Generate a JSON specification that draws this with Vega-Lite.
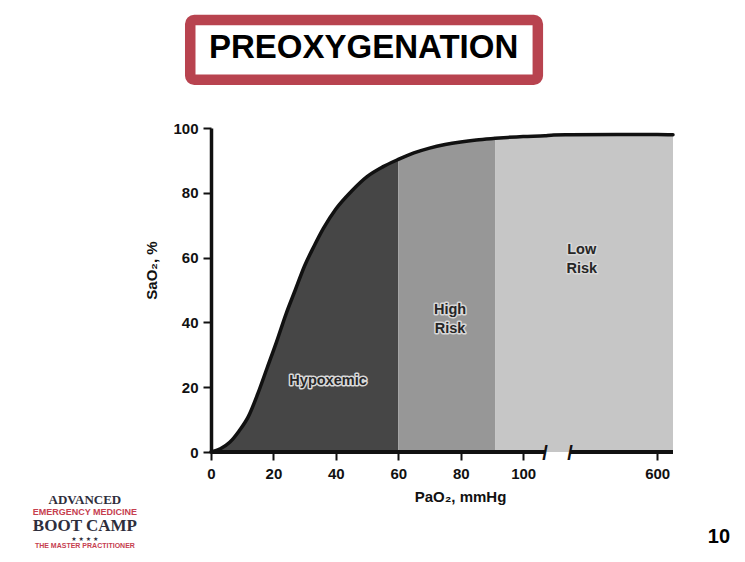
{
  "$schema": "https://vega.github.io/schema/vega-lite/v6.json",
  "width": 462,
  "height": 324,
  "autosize": {"type": "none"},
  "padding": {"left": 211, "top": 128, "right": 72, "bottom": 110},
  "background": "white",
  "config": {
    "font": "Liberation Sans",
    "view": {"stroke": null},
    "axis": {"grid": false}
  },
  "datasets": {
    "curve": [
      {"p": 0, "s": 0, "zone": "Hypoxemic"},
      {"p": 3, "s": 1, "zone": "Hypoxemic"},
      {"p": 6, "s": 3, "zone": "Hypoxemic"},
      {"p": 9, "s": 6.5, "zone": "Hypoxemic"},
      {"p": 12, "s": 11, "zone": "Hypoxemic"},
      {"p": 15, "s": 18, "zone": "Hypoxemic"},
      {"p": 18, "s": 26, "zone": "Hypoxemic"},
      {"p": 21, "s": 34, "zone": "Hypoxemic"},
      {"p": 24, "s": 42.5, "zone": "Hypoxemic"},
      {"p": 27, "s": 50, "zone": "Hypoxemic"},
      {"p": 30, "s": 57.5, "zone": "Hypoxemic"},
      {"p": 33, "s": 63.5, "zone": "Hypoxemic"},
      {"p": 36, "s": 69, "zone": "Hypoxemic"},
      {"p": 40, "s": 75, "zone": "Hypoxemic"},
      {"p": 45, "s": 80.5, "zone": "Hypoxemic"},
      {"p": 50, "s": 85, "zone": "Hypoxemic"},
      {"p": 55, "s": 88, "zone": "Hypoxemic"},
      {"p": 60, "s": 90.3, "zone": "Hypoxemic"},
      {"p": 60, "s": 90.3, "zone": "High Risk"},
      {"p": 65, "s": 92.3, "zone": "High Risk"},
      {"p": 70, "s": 93.8, "zone": "High Risk"},
      {"p": 75, "s": 94.9, "zone": "High Risk"},
      {"p": 80, "s": 95.7, "zone": "High Risk"},
      {"p": 85, "s": 96.3, "zone": "High Risk"},
      {"p": 91, "s": 96.8, "zone": "High Risk"},
      {"p": 91, "s": 96.8, "zone": "Low Risk"},
      {"p": 95, "s": 97.1, "zone": "Low Risk"},
      {"p": 100, "s": 97.4, "zone": "Low Risk"},
      {"p": 107, "s": 97.6, "zone": "Low Risk"},
      {"p": 200, "s": 97.8, "zone": "Low Risk"},
      {"p": 490, "s": 97.9, "zone": "Low Risk"},
      {"p": 550, "s": 98, "zone": "Low Risk"},
      {"p": 600, "s": 98, "zone": "Low Risk"},
      {"p": 620, "s": 97.9, "zone": "Low Risk"}
    ],
    "labels": [
      {"label": "Hypoxemic", "p": 37.5, "s": 21.9},
      {"label": "High\nRisk", "p": 76.6, "s": 43.7},
      {"label": "Low\nRisk", "p": 504.8, "s": 62.3}
    ],
    "segments": [
      {"from": 0, "to": 107},
      {"from": 490, "to": 620}
    ],
    "breaks": [
      {"p": 107},
      {"p": 490}
    ]
  },
  "layer": [
    {
      "data": {"name": "curve"},
      "mark": {"type": "area", "opacity": 1, "interpolate": "monotone"},
      "encoding": {
        "x": {
          "field": "p",
          "type": "quantitative",
          "title": "PaO₂, mmHg",
          "scale": {"domain": [0, 107, 490, 620], "range": [0, 334, 359, 462], "nice": false, "zero": false},
          "axis": {
            "values": [0, 20, 40, 60, 80, 100, 600],
            "domain": false,
            "tickSize": 8,
            "tickWidth": 2,
            "tickColor": "#111",
            "labelFont": "Liberation Sans",
            "labelFontSize": 15,
            "labelFontWeight": "bold",
            "labelColor": "#111",
            "labelPadding": 6,
            "labelFlush": false,
            "labelOverlap": false,
            "titleFont": "Liberation Sans",
            "titleFontSize": 15,
            "titleFontWeight": "bold",
            "titleColor": "#111",
            "titleX": 249,
            "titleY": 49,
            "titleAlign": "center",
            "titleBaseline": "alphabetic"
          }
        },
        "y": {
          "field": "s",
          "type": "quantitative",
          "title": "SaO₂, %",
          "stack": null,
          "scale": {"domain": [0, 100], "nice": false, "zero": false},
          "axis": {
            "values": [0, 10, 20, 30, 40, 50, 60, 70, 80, 90, 100],
            "labelExpr": "datum.value % 20 == 0 ? datum.label : ''",
            "domain": true,
            "domainColor": "#111",
            "domainWidth": 3.5,
            "tickSize": 8,
            "tickWidth": 2,
            "tickColor": "#111",
            "labelFont": "Liberation Sans",
            "labelFontSize": 15,
            "labelFontWeight": "bold",
            "labelColor": "#111",
            "labelPadding": 5,
            "labelOverlap": false,
            "titleFont": "Liberation Sans",
            "titleFontSize": 15,
            "titleFontWeight": "bold",
            "titleColor": "#111",
            "titleX": -60,
            "titleY": 142,
            "titleAngle": -90,
            "titleAlign": "center",
            "titleBaseline": "middle"
          }
        },
        "color": {
          "field": "zone",
          "type": "nominal",
          "scale": {"domain": ["Hypoxemic", "High Risk", "Low Risk"], "range": ["#464646", "#979797", "#c6c6c6"]},
          "legend": null
        }
      }
    },
    {
      "data": {"name": "curve"},
      "mark": {"type": "line", "color": "#111", "strokeWidth": 3.5, "strokeCap": "round", "interpolate": "monotone"},
      "encoding": {
        "x": {"field": "p", "type": "quantitative", "title": "PaO₂, mmHg"},
        "y": {"field": "s", "type": "quantitative", "title": "SaO₂, %"}
      }
    },
    {
      "data": {"name": "segments"},
      "mark": {"type": "rule", "color": "#111", "strokeWidth": 4},
      "encoding": {
        "x": {"field": "from", "type": "quantitative", "title": "PaO₂, mmHg"},
        "x2": {"field": "to", "title": "PaO₂, mmHg"},
        "y": {"datum": 0, "type": "quantitative", "title": "SaO₂, %"}
      }
    },
    {
      "data": {"name": "breaks"},
      "mark": {"type": "text", "text": "/", "font": "Liberation Sans", "fontSize": 20, "fontWeight": "bold", "color": "#111", "baseline": "middle", "align": "center", "dy": 2},
      "encoding": {
        "x": {"field": "p", "type": "quantitative", "title": "PaO₂, mmHg"},
        "y": {"datum": 0, "type": "quantitative", "title": "SaO₂, %"}
      }
    },
    {
      "data": {"name": "labels"},
      "mark": {"type": "text", "font": "Liberation Sans", "fontSize": 14.5, "fontWeight": "bold", "lineBreak": "\n", "lineHeight": 19, "align": "center", "baseline": "middle", "fill": "#d8d8d8", "stroke": "#d8d8d8", "strokeWidth": 3, "strokeJoin": "round"},
      "encoding": {
        "x": {"field": "p", "type": "quantitative", "title": "PaO₂, mmHg"},
        "y": {"field": "s", "type": "quantitative", "title": "SaO₂, %"},
        "text": {"field": "label"}
      }
    },
    {
      "data": {"name": "labels"},
      "mark": {"type": "text", "font": "Liberation Sans", "fontSize": 14.5, "fontWeight": "bold", "lineBreak": "\n", "lineHeight": 19, "align": "center", "baseline": "middle", "color": "#262626"},
      "encoding": {
        "x": {"field": "p", "type": "quantitative", "title": "PaO₂, mmHg"},
        "y": {"field": "s", "type": "quantitative", "title": "SaO₂, %"},
        "text": {"field": "label"}
      }
    },
    {
      "data": {"values": [{"title": "PREOXYGENATION"}]},
      "layer": [
        {
          "mark": {"type": "rect", "fill": "#e2e2e2", "stroke": null, "cornerRadius": 4, "opacity": 0.8},
          "encoding": {
            "x": {"datum": -6.0, "type": "quantitative", "title": "PaO₂, mmHg"},
            "x2": {"datum": 105.5},
            "y": {"datum": 132.6, "type": "quantitative", "title": "SaO₂, %"},
            "y2": {"datum": 113.9}
          }
        },
        {
          "mark": {"type": "rect", "fill": "white", "stroke": "#b8434f", "strokeWidth": 10.5, "cornerRadius": 4},
          "encoding": {
            "x": {"datum": -6.65, "type": "quantitative", "title": "PaO₂, mmHg"},
            "x2": {"datum": 104.7},
            "y": {"datum": 133.3, "type": "quantitative", "title": "SaO₂, %"},
            "y2": {"datum": 114.9}
          }
        },
        {
          "mark": {"type": "text", "font": "Liberation Sans", "fontSize": 33, "fontWeight": "bold", "color": "#000", "align": "center", "baseline": "alphabetic"},
          "encoding": {
            "x": {"datum": 48.9, "type": "quantitative", "title": "PaO₂, mmHg"},
            "y": {"datum": 121.5, "type": "quantitative", "title": "SaO₂, %"},
            "text": {"field": "title"}
          }
        }
      ]
    },
    {
      "data": {"values": [{"page": "10"}]},
      "mark": {"type": "text", "font": "Liberation Sans", "fontSize": 20, "fontWeight": "bold", "color": "#000", "align": "center", "baseline": "alphabetic"},
      "encoding": {
        "x": {"datum": 678, "type": "quantitative", "title": "PaO₂, mmHg"},
        "y": {"datum": -28.1, "type": "quantitative", "title": "SaO₂, %"},
        "text": {"field": "page"}
      }
    },
    {
      "data": {"values": [
        {"t": "ADVANCED", "ly": -14.8, "size": 13},
        {"t": "BOOT CAMP", "ly": -22.9, "size": 17}
      ]},
      "mark": {"type": "text", "font": "Liberation Serif", "fontWeight": "bold", "align": "center", "baseline": "middle", "color": "#2e2e3c"},
      "encoding": {
        "x": {"datum": -40.4, "type": "quantitative", "title": "PaO₂, mmHg"},
        "y": {"field": "ly", "type": "quantitative", "title": "SaO₂, %"},
        "text": {"field": "t"},
        "size": {"field": "size", "type": "quantitative", "scale": null, "legend": null}
      }
    },
    {
      "data": {"values": [
        {"t": "★ ★ ★ ★", "ly": -27.0, "size": 6}
      ]},
      "mark": {"type": "text", "font": "DejaVu Sans", "align": "center", "baseline": "middle", "color": "#2e2e3c"},
      "encoding": {
        "x": {"datum": -40.4, "type": "quantitative", "title": "PaO₂, mmHg"},
        "y": {"field": "ly", "type": "quantitative", "title": "SaO₂, %"},
        "text": {"field": "t"},
        "size": {"field": "size", "type": "quantitative", "scale": null, "legend": null}
      }
    },
    {
      "data": {"values": [
        {"t": "EMERGENCY MEDICINE", "ly": -18.6, "size": 9},
        {"t": "THE MASTER PRACTITIONER", "ly": -29.1, "size": 7}
      ]},
      "mark": {"type": "text", "font": "Liberation Sans", "fontWeight": "bold", "align": "center", "baseline": "middle", "color": "#c6404f"},
      "encoding": {
        "x": {"datum": -40.4, "type": "quantitative", "title": "PaO₂, mmHg"},
        "y": {"field": "ly", "type": "quantitative", "title": "SaO₂, %"},
        "text": {"field": "t"},
        "size": {"field": "size", "type": "quantitative", "scale": null, "legend": null}
      }
    }
  ]
}
